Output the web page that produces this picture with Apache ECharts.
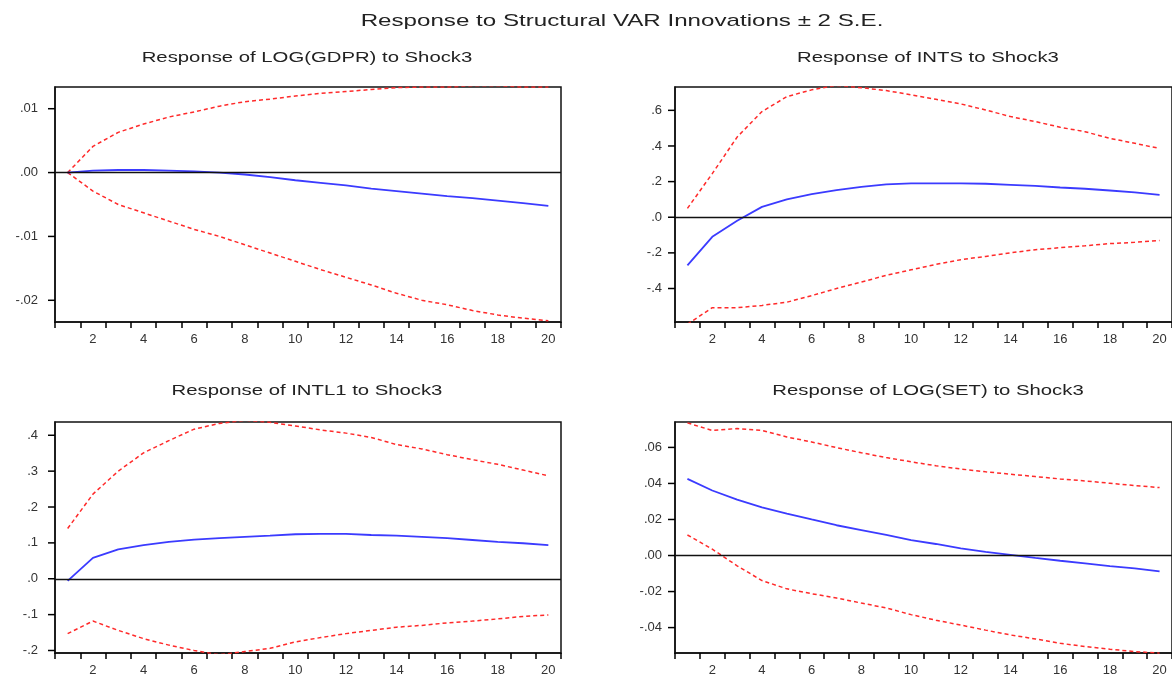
<!DOCTYPE html>
<html>
<head>
<meta charset="utf-8">
<script src="https://cdn.jsdelivr.net/npm/echarts@6/dist/echarts.min.js"></script>
<style>
  html, body { margin: 0; padding: 0; background: #fff; }
  #chart { width: 1172px; height: 677px; }
</style>
</head>
<body>
<div id="chart"></div>
<script>
// horizon (periods after the shock)
var periods = ['1','2','3','4','5','6','7','8','9','10','11','12','13','14','15','16','17','18','19','20'];

// Response of LOG(GDPR) to Shock3
var gdprResp  = [0, 0.0003, 0.0004, 0.0004, 0.0003, 0.0002, 0.0, -0.0003, -0.0007, -0.0012, -0.0016, -0.0020, -0.0025, -0.0029, -0.0033, -0.0037, -0.0040, -0.0044, -0.0048, -0.0052];
var gdprUpper = [0, 0.0041, 0.0063, 0.0076, 0.0087, 0.0095, 0.0104, 0.0111, 0.0115, 0.0120, 0.0124, 0.0127, 0.0130, 0.0133, 0.0134, 0.0134, 0.0136, 0.0136, 0.0134, 0.0134];
var gdprLower = [0, -0.0029, -0.0050, -0.0063, -0.0076, -0.0089, -0.0100, -0.0113, -0.0126, -0.0139, -0.0152, -0.0164, -0.0176, -0.0189, -0.0200, -0.0207, -0.0216, -0.0223, -0.0228, -0.0232];
var gdprTicks = [-0.02, -0.01, 0, 0.01];

// Response of INTS to Shock3
var intsResp  = [-0.27, -0.11, -0.02, 0.058, 0.10, 0.13, 0.152, 0.171, 0.184, 0.19, 0.19, 0.19, 0.188, 0.182, 0.176, 0.167, 0.16, 0.15, 0.14, 0.126];
var intsUpper = [0.05, 0.245, 0.45, 0.593, 0.677, 0.715, 0.74, 0.727, 0.711, 0.687, 0.662, 0.636, 0.602, 0.565, 0.537, 0.505, 0.48, 0.443, 0.415, 0.386];
var intsLower = [-0.60, -0.508, -0.508, -0.495, -0.477, -0.44, -0.40, -0.364, -0.326, -0.295, -0.265, -0.238, -0.22, -0.20, -0.182, -0.171, -0.16, -0.148, -0.141, -0.13];
var intsTicks = [-0.4, -0.2, 0, 0.2, 0.4, 0.6];

// Response of INTL1 to Shock3
var intlResp  = [-0.006, 0.058, 0.082, 0.094, 0.103, 0.109, 0.113, 0.117, 0.12, 0.124, 0.125, 0.125, 0.122, 0.12, 0.117, 0.113, 0.108, 0.103, 0.099, 0.094];
var intlUpper = [0.14, 0.236, 0.30, 0.351, 0.385, 0.417, 0.433, 0.442, 0.436, 0.426, 0.415, 0.406, 0.394, 0.374, 0.362, 0.346, 0.332, 0.319, 0.303, 0.287];
var intlLower = [-0.153, -0.118, -0.144, -0.167, -0.185, -0.20, -0.212, -0.203, -0.194, -0.176, -0.164, -0.153, -0.144, -0.135, -0.13, -0.123, -0.118, -0.112, -0.105, -0.101];
var intlTicks = [-0.2, -0.1, 0, 0.1, 0.2, 0.3, 0.4];

// Response of LOG(SET) to Shock3
var setResp  = [0.0425, 0.0361, 0.031, 0.0267, 0.0233, 0.020, 0.0168, 0.0141, 0.0114, 0.0086, 0.0064, 0.004, 0.002, 0.0004, -0.0013, -0.0029, -0.0044, -0.0059, -0.0071, -0.0088];
var setUpper = [0.0736, 0.0694, 0.0705, 0.0694, 0.0658, 0.063, 0.0599, 0.057, 0.0544, 0.052, 0.0498, 0.048, 0.0465, 0.0451, 0.0438, 0.0425, 0.0414, 0.0401, 0.0388, 0.0377];
var setLower = [0.0114, 0.0035, -0.0057, -0.0139, -0.0185, -0.0212, -0.0236, -0.0264, -0.0291, -0.0328, -0.0359, -0.0386, -0.0414, -0.0441, -0.0463, -0.0487, -0.0505, -0.052, -0.0533, -0.0542];
var setTicks = [-0.04, -0.02, 0, 0.02, 0.04, 0.06];

var mainTitle = 'Response to Structural VAR Innovations \u00b1 2 S.E.';
var panelTitles = ['Response of LOG(GDPR) to Shock3', 'Response of INTS to Shock3',
                   'Response of INTL1 to Shock3', 'Response of LOG(SET) to Shock3'];

var chart = echarts.init(document.getElementById('chart'));

// panel layout, axis ranges and tick steps
var panels = [
  { resp: gdprResp, upper: gdprUpper, lower: gdprLower, ticks: gdprTicks, left: 55,  top: 87,  height: 235, min: -0.0234, max: 0.0134, step: 0.01, digits: 2, cx: 307, lm: 17 },
  { resp: intsResp, upper: intsUpper, lower: intsLower, ticks: intsTicks, left: 675, top: 87,  height: 235, min: -0.588,  max: 0.731,  step: 0.2,  digits: 1, cx: 928, lm: 13 },
  { resp: intlResp, upper: intlUpper, lower: intlLower, ticks: intlTicks, left: 55,  top: 422, height: 234, min: -0.207,  max: 0.437,  step: 0.1,  digits: 1, cx: 307, lm: 17 },
  { resp: setResp,  upper: setUpper,  lower: setLower,  ticks: setTicks,  left: 675, top: 422, height: 233, min: -0.0541, max: 0.0741, step: 0.02, digits: 2, cx: 928, lm: 13 }
];

// eviews style labels: .01  -.02  .0  (edge ticks get no label)
function tickFormatter(step, digits) {
  return function (v) {
    var r = Math.round(v / step);
    if (Math.abs(v - r * step) > step * 1e-3) return '';
    var s = Math.abs(r * step).toFixed(digits).replace(/^0/, '');
    return (r < 0 ? '-' : '') + s;
  };
}

// y tick marks, placed through the axis scale, sticking out left of the frame
function renderYTick(params, api) {
  var pt = api.coord([0, api.value(1)]);
  var x0 = pt[0] - api.size([1, 0])[0] / 2;
  return {
    type: 'line',
    shape: { x1: x0 - 7, y1: pt[1], x2: x0, y2: pt[1] },
    style: { stroke: '#000', lineWidth: 1.5 }
  };
}

var labelFont = { fontFamily: 'Liberation Sans', fontSize: 13, color: '#333' };

var grids = [], xAxes = [], yAxes = [], series = [], graphics = [];

graphics.push({
  type: 'text', x: 622, y: 21, scaleX: 1.42,
  style: { text: mainTitle, font: '17px "Liberation Sans"', fill: '#222', align: 'center', verticalAlign: 'middle' }
});

panels.forEach(function (p, i) {
  grids.push({
    left: p.left, top: p.top, width: 506, height: p.height,
    show: true, borderColor: '#111', borderWidth: 1.5, backgroundColor: '#fff'
  });
  xAxes.push({
    type: 'category', gridIndex: i, data: periods, boundaryGap: true,
    axisLine: { show: true, onZero: false, lineStyle: { color: '#111', width: 1.5 } },
    axisTick: { show: true, interval: 0, length: 6, lineStyle: { color: '#000', width: 1.5 } },
    axisLabel: Object.assign({ interval: function (idx) { return idx % 2 === 1; }, margin: 11 }, labelFont),
    splitLine: { show: false }
  });
  yAxes.push({
    type: 'value', gridIndex: i, min: p.min, max: p.max,
    minInterval: p.step, maxInterval: p.step,
    axisLine: { show: true, lineStyle: { color: '#111', width: 1.5 } },
    axisTick: { show: false },
    axisLabel: Object.assign({ formatter: tickFormatter(p.step, p.digits), margin: p.lm }, labelFont),
    splitLine: { show: false }
  });
  series.push({
    type: 'custom', xAxisIndex: i, yAxisIndex: i, silent: true, clip: false, z: 5,
    data: p.ticks.map(function (v) { return [0, v]; }),
    renderItem: renderYTick
  });
  series.push({
    type: 'line', xAxisIndex: i, yAxisIndex: i, data: p.upper, symbol: 'none',
    lineStyle: { color: '#ff2a2a', width: 1.5, type: [4, 3] }, z: 3
  });
  series.push({
    type: 'line', xAxisIndex: i, yAxisIndex: i, data: p.lower, symbol: 'none',
    lineStyle: { color: '#ff2a2a', width: 1.5, type: [4, 3] }, z: 3
  });
  series.push({
    type: 'line', xAxisIndex: i, yAxisIndex: i, data: p.resp, symbol: 'none',
    lineStyle: { color: '#3b3bff', width: 1.8 }, z: 4,
    markLine: {
      silent: true, symbol: 'none', label: { show: false },
      lineStyle: { color: '#111', width: 1.3, type: 'solid' },
      data: [{ yAxis: 0 }]
    }
  });
  graphics.push({
    type: 'text', x: p.cx, y: i < 2 ? 58 : 391, scaleX: 1.45,
    style: { text: panelTitles[i], font: '14px "Liberation Sans"', fill: '#222', align: 'center', verticalAlign: 'middle' }
  });
});

chart.setOption({
  backgroundColor: '#fff',
  animation: false,
  grid: grids,
  xAxis: xAxes,
  yAxis: yAxes,
  series: series,
  graphic: graphics
});
</script>
</body>
</html>
